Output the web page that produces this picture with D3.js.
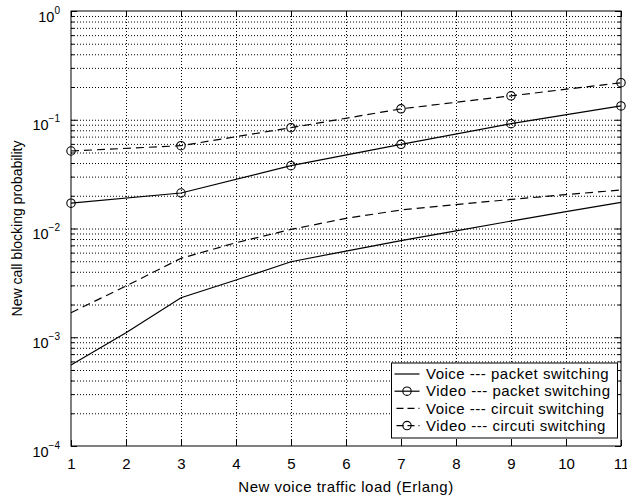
<!DOCTYPE html>
<html>
<head>
<meta charset="utf-8">
<script src="https://cdn.jsdelivr.net/npm/d3@7"></script>
<style>
  body { margin: 0; background: #fff; }
  text { font-family: "Liberation Sans", Arial, Helvetica, sans-serif; fill: #000; }
  .grid line { stroke: #000; stroke-width: 1; stroke-dasharray: 1,2; }
  .grid path { display: none; }
  .ax path { display: none; }
  .ax line { stroke: #000; stroke-width: 1; }
</style>
</head>
<body>
<script>
// values
var xVoice = [1, 2, 3, 4, 5, 6, 7, 8, 9, 10, 11];
var voicePacket = [0.000556, 0.0011, 0.00231, 0.00336, 0.00495, 0.0062, 0.00773, 0.0095, 0.0117, 0.0143, 0.0174];
var voiceCircuit = [0.00168, 0.00296, 0.00532, 0.0074, 0.0098, 0.0124, 0.0148, 0.0166, 0.0185, 0.0205, 0.0226];
var xVideo = [1, 3, 5, 7, 9, 11];
var videoPacket = [0.0171, 0.0212, 0.0378, 0.0594, 0.092, 0.134];
var videoCircuit = [0.0516, 0.0577, 0.0845, 0.126, 0.166, 0.219];

var xTicks = [1, 2, 3, 4, 5, 6, 7, 8, 9, 10, 11];
var yMajor = [1e-4, 1e-3, 1e-2, 1e-1, 1];
var yExp = ["\u22124", "\u22123", "\u22122", "\u22121", "0"];
var legendLabels = ["Voice --- packet switching", "Video --- packet switching",
                    "Voice --- circuit switching", "Video --- circuti switching"];

var margin = { top: 11, right: 6, bottom: 50, left: 71 };
var W = 627, H = 496;
var width = W - margin.left - margin.right;
var height = H - margin.top - margin.bottom;

var svg = d3.select("body").append("svg")
  .attr("width", W)
  .attr("height", H)
  .append("g")
  .attr("transform", "translate(" + margin.left + "," + margin.top + ")");

var x = d3.scaleLinear().domain([1, 11]).range([0, width]);
var y = d3.scaleLog().domain([1e-4, 1]).range([height, 0]);

// minor log positions 2..9 in every decade
var yMinor = [];
yMajor.slice(0, 4).forEach(function(d) {
  for (var k = 2; k <= 9; k++) yMinor.push(d * k);
});
var yAll = yMajor.concat(yMinor);

// dotted grid
svg.append("g").attr("class", "grid")
  .attr("transform", "translate(0," + height + ")")
  .call(d3.axisBottom(x).tickValues(xTicks.slice(1, -1)).tickSize(-height).tickFormat(""));

svg.append("g").attr("class", "grid")
  .call(d3.axisLeft(y).tickValues(yAll.filter(function(d) { return d > 1e-4 && d < 1; }))
    .tickSize(-width).tickFormat(""));

// ticks inside the box
svg.append("g").attr("class", "ax")
  .attr("transform", "translate(0," + height + ")")
  .call(d3.axisBottom(x).tickValues(xTicks).tickSize(-6).tickSizeOuter(0).tickPadding(12))
  .selectAll("text").style("font-size", "15px");

svg.append("g").attr("class", "ax")
  .call(d3.axisTop(x).tickValues(xTicks).tickSize(-6).tickSizeOuter(0).tickFormat(""));

svg.append("g").attr("class", "ax")
  .call(d3.axisLeft(y).tickValues(yMinor).tickSize(-3).tickSizeOuter(0).tickFormat(""));
svg.append("g").attr("class", "ax")
  .attr("transform", "translate(" + width + ",0)")
  .call(d3.axisRight(y).tickValues(yMinor).tickSize(-3).tickSizeOuter(0).tickFormat(""));
svg.append("g").attr("class", "ax")
  .attr("transform", "translate(" + width + ",0)")
  .call(d3.axisRight(y).tickValues(yMajor).tickSize(-6).tickSizeOuter(0).tickFormat(""));

var yAxis = svg.append("g").attr("class", "ax")
  .call(d3.axisLeft(y).tickValues(yMajor).tickSize(-6).tickSizeOuter(0).tickPadding(11));

yAxis.selectAll(".tick text")
  .attr("dy", null)
  .attr("y", 10)
  .text("")
  .each(function(d, i) {
    var t = d3.select(this);
    t.append("tspan").style("font-size", "14.5px").text("10");
    t.append("tspan").style("font-size", "10px").attr("dy", -8).text(yExp[i]);
  });

// frame
svg.append("rect")
  .attr("width", width)
  .attr("height", height)
  .attr("fill", "none")
  .attr("stroke", "#000")
  .attr("stroke-width", 1);

// series
var series = [
  { xs: xVoice, ys: voicePacket, dash: null, marker: false },
  { xs: xVideo, ys: videoPacket, dash: null, marker: true },
  { xs: xVoice, ys: voiceCircuit, dash: "8,5", marker: false },
  { xs: xVideo, ys: videoCircuit, dash: "8,5", marker: true }
];

var line = d3.line()
  .x(function(d) { return x(d[0]); })
  .y(function(d) { return y(d[1]); });

series.forEach(function(s) {
  var pts = s.xs.map(function(v, i) { return [v, s.ys[i]]; });
  svg.append("path")
    .datum(pts)
    .attr("fill", "none")
    .attr("stroke", "#000")
    .attr("stroke-width", 1.2)
    .attr("stroke-dasharray", s.dash)
    .attr("d", line);
  if (s.marker) {
    svg.selectAll(null)
      .data(pts)
      .enter()
      .append("circle")
      .attr("cx", function(d) { return x(d[0]); })
      .attr("cy", function(d) { return y(d[1]); })
      .attr("r", 4.2)
      .attr("fill", "none")
      .attr("stroke", "#000")
      .attr("stroke-width", 1.1);
  }
});

// axis titles
svg.append("text")
  .attr("x", width / 2)
  .attr("y", height + 46)
  .attr("text-anchor", "middle")
  .style("font-size", "15px")
  .style("letter-spacing", "0.5px")
  .text("New voice traffic load (Erlang)");

svg.append("text")
  .attr("transform", "rotate(-90)")
  .attr("x", -height / 2)
  .attr("y", -49)
  .attr("text-anchor", "middle")
  .style("font-size", "14px")
  .text("New call blocking probability");

// legend
var lg = svg.append("g").attr("transform", "translate(" + (391.5 - margin.left) + "," + (363 - margin.top) + ")");
lg.append("rect")
  .attr("width", 226)
  .attr("height", 75)
  .attr("fill", "#fff")
  .attr("stroke", "#000")
  .attr("stroke-width", 1);

lg.selectAll(".row")
  .data(series)
  .enter()
  .append("g")
  .attr("class", "row")
  .attr("transform", function(d, i) { return "translate(0," + (11 + i * 17.2) + ")"; })
  .each(function(d, i) {
    var g = d3.select(this);
    g.append("line")
      .attr("x1", 3).attr("x2", 28)
      .attr("stroke", "#000")
      .attr("stroke-width", 1.2)
      .attr("stroke-dasharray", d.dash ? "7,4" : null)
      .attr("stroke-dashoffset", d.dash ? -2 : null);
    if (d.marker) {
      g.append("circle").attr("cx", 15.5).attr("r", 4.2)
        .attr("fill", "none").attr("stroke", "#000").attr("stroke-width", 1.1);
    }
    g.append("text")
      .attr("x", 34.5)
      .attr("dy", "0.35em")
      .style("font-size", "15px")
      .style("letter-spacing", "0.5px")
      .text(legendLabels[i]);
  });
</script>
</body>
</html>
